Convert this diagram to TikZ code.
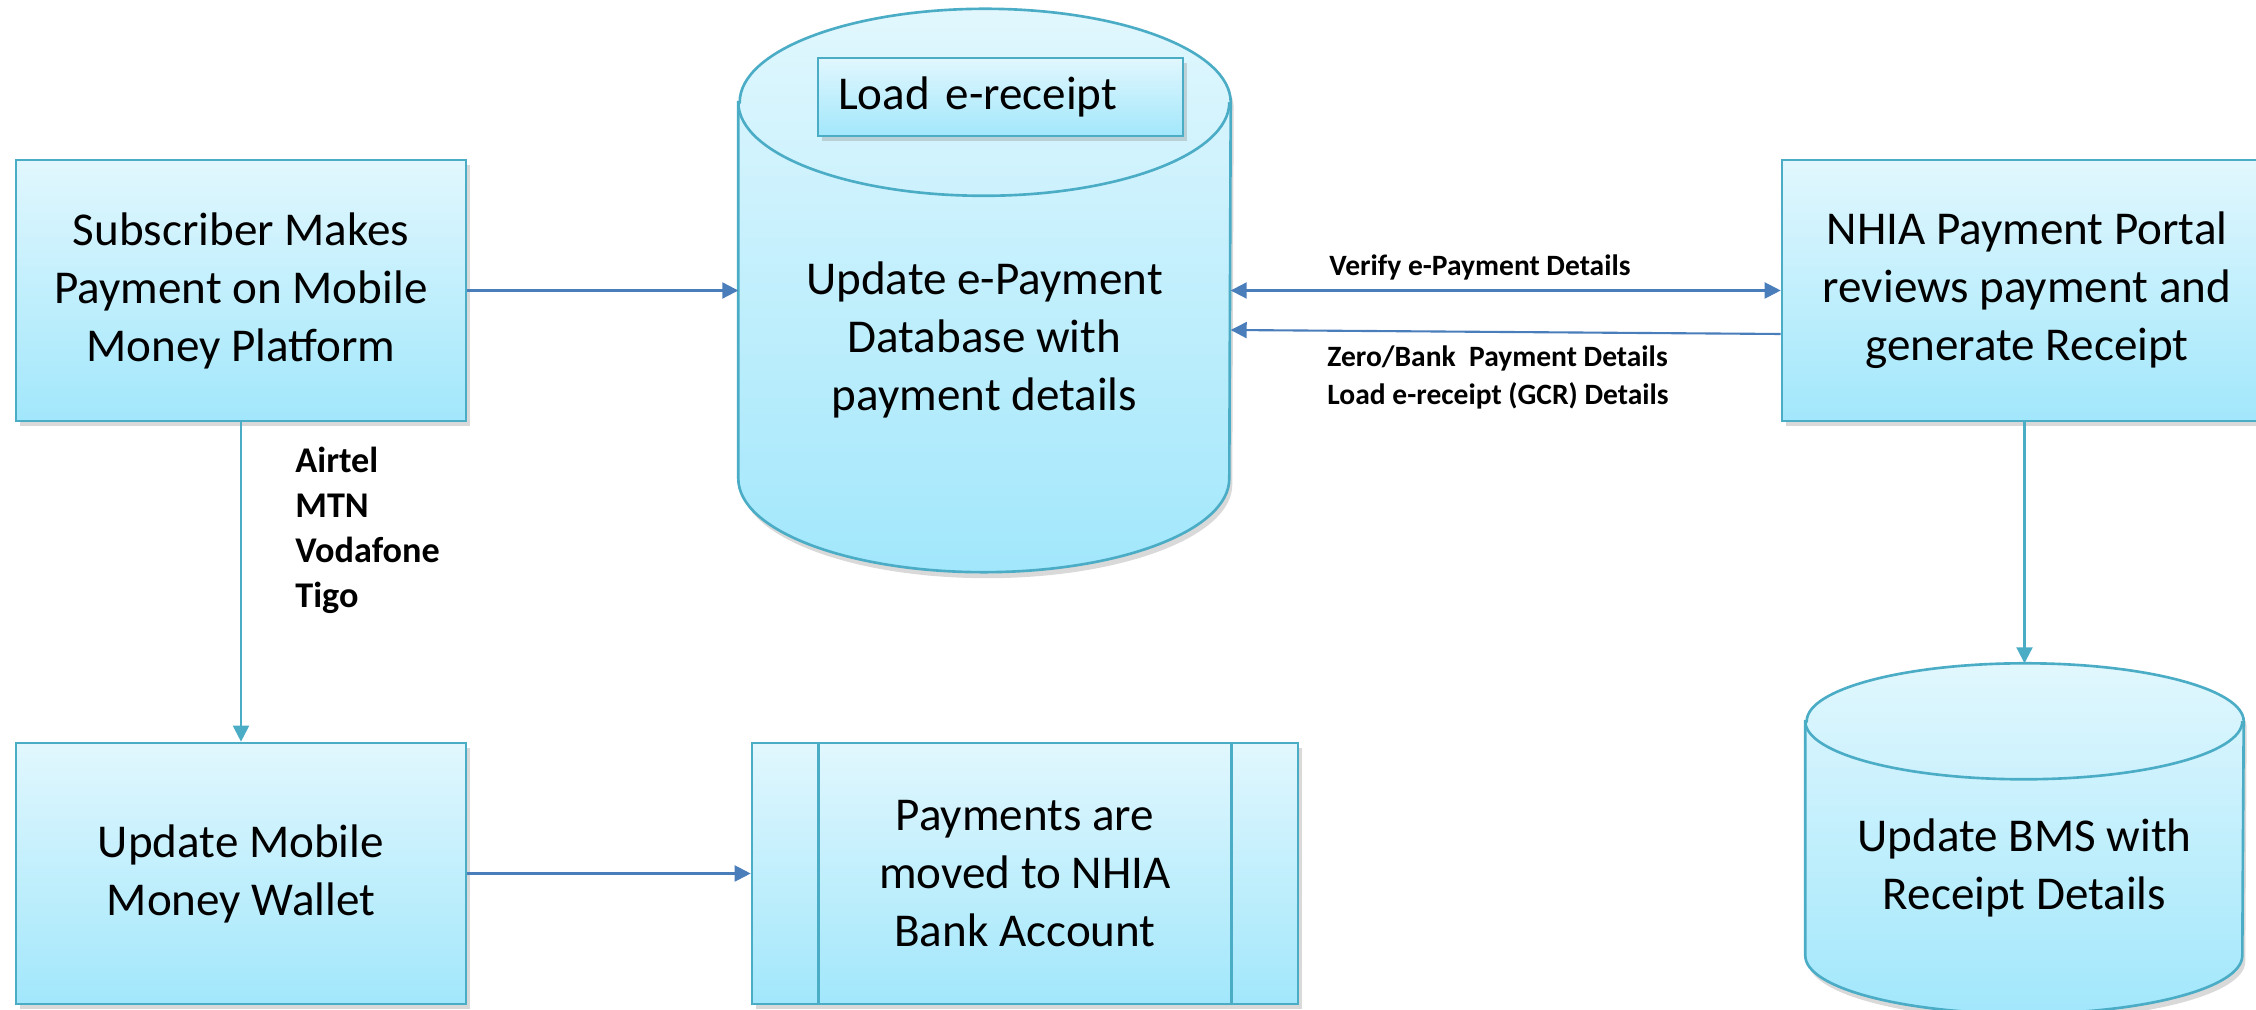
\documentclass[tikz,border=0pt]{standalone}
\usepackage{fontspec}
\setmainfont{Carlito}
\usetikzlibrary{shapes,shadows,arrows.meta}
\definecolor{boxtop}{RGB}{225,247,253}
\definecolor{boxbot}{RGB}{162,231,252}
\definecolor{boxline}{RGB}{75,172,198}
\definecolor{flowblue}{RGB}{74,126,187}

\begin{document}
\begin{tikzpicture}[>={Triangle[length=0.16cm,width=0.16cm]},
	proc/.style={draw=boxline,line width=0.75pt,top color=boxtop,bottom color=boxbot,
		drop shadow={shadow xshift=0.04cm,shadow yshift=-0.05cm,opacity=0.3},
		minimum width=4.5cm,minimum height=2.61cm,align=center,
		font=\fontsize{13.4}{16.5}\selectfont},
	store/.style={inner sep=0pt},
	bodytxt/.style={align=center,font=\fontsize{13.4}{16.5}\selectfont},
	lbl/.style={font=\bfseries\fontsize{8.4}{10.8}\selectfont},
	flow/.style={->,draw=flowblue,fill=flowblue,line width=0.6pt},
	flowteal/.style={->,draw=boxline,fill=boxline,line width=0.6pt}]
	\useasboundingbox (0,0) rectangle (22.56,10.10);
	% left column
	\node[proc] (sub) at (2.41,7.195) {Subscriber Makes\\Payment on Mobile\\Money Platform};
	\node[proc] (wallet) at (2.41,1.365) {Update Mobile\\Money Wallet};
	\node[proc,minimum width=5.46cm] (bank) at (10.25,1.365) {Payments are\\moved to NHIA\\Bank Account};
	\draw[boxline,line width=0.75pt] ([xshift=0.68cm]bank.north west) -- ([xshift=0.68cm]bank.south west);
	\draw[boxline,line width=0.75pt] ([xshift=-0.68cm]bank.north east) -- ([xshift=-0.68cm]bank.south east);
	\node[proc,minimum width=4.9cm] (portal) at (20.27,7.195) {NHIA Payment Portal\\reviews payment and\\generate Receipt};
	% databases
	\node[store,minimum width=4.91cm,minimum height=5.62cm] (db) at (9.845,7.195) {};
	\node[store,minimum width=4.37cm,minimum height=3.49cm] (bms) at (20.245,1.715) {};
	\foreach \n/\rx/\ry in {db/2.455/0.935,bms/2.185/0.58} {
		\path[top color=boxtop,bottom color=boxbot,draw=boxline,line width=0.75pt,
			drop shadow={shadow xshift=0.03cm,shadow yshift=-0.06cm,opacity=0.3}]
			([yshift=-\ry cm]\n.north west) -- ([yshift=\ry cm]\n.south west)
			arc[start angle=180,end angle=360,x radius=\rx,y radius=\ry]
			-- ([yshift=-\ry cm]\n.north east)
			arc[start angle=0,end angle=180,x radius=\rx,y radius=\ry] -- cycle;
		\draw[boxline,line width=0.75pt] ([yshift=-\ry cm]\n.north west)
			arc[start angle=180,end angle=360,x radius=\rx,y radius=\ry];
	}
	\node[proc,minimum width=0pt,minimum height=0.78cm,text width=3.25cm,inner xsep=0.2cm,align=left] (load) at (10.005,9.13) {Load e-receipt};
	\node[bodytxt] (dbtext) at ([yshift=-0.495cm]db.center) {Update e-Payment\\Database with\\payment details};
	\node[bodytxt] (bmstext) at ([yshift=-0.295cm]bms.center) {Update BMS with\\Receipt Details};
	% connectors
	\draw[flow] (sub.east) -- (db.west |- sub.east);
	\draw[flow,<->] (db.east |- sub.east) -- (portal.west);
	\draw[flow] ([yshift=-0.435cm]portal.west) -- ([yshift=-0.395cm]db.east);
	\draw[flowteal] (sub.south) -- (wallet.north);
	\draw[flow] (wallet.east) -- (bank.west);
	\draw[flowteal] (portal.south -| bms.north) -- (bms.north);
	% labels
	\node[lbl] (verify) at (14.80,7.43) {Verify e-Payment Details};
	\node[lbl,anchor=west,align=left] (zero) at (13.15,6.325) {Zero/Bank\ \ Payment Details\\Load e-receipt (GCR) Details};
	\node[anchor=west,align=left,font=\bfseries\fontsize{10.3}{12.8}\selectfont] (nets) at (2.83,4.80) {Airtel\\MTN\\Vodafone\\Tigo};
\end{tikzpicture}
\end{document}
